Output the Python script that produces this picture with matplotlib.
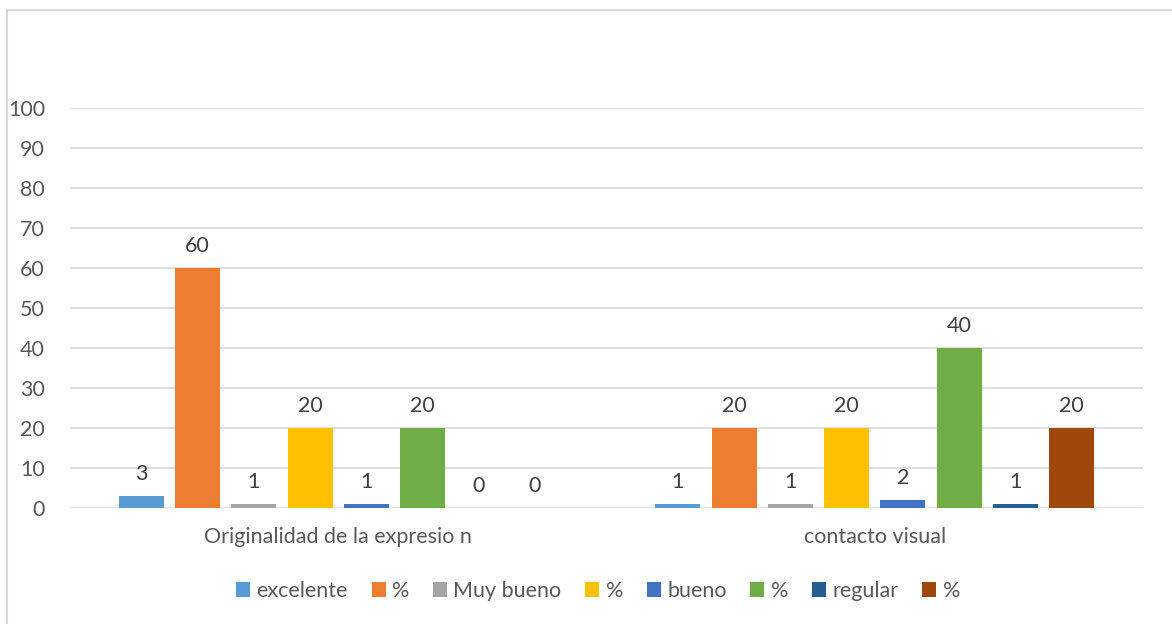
#!/usr/bin/env python3
"""Grouped bar chart: originalidad / contacto visual."""

import matplotlib
matplotlib.use("Agg")
import matplotlib.pyplot as plt
from matplotlib.patches import Rectangle
import numpy as np

categories = ["Originalidad de la expresio n", "contacto visual"]
series_names = ["excelente", "%", "Muy bueno", "%", "bueno", "%", "regular", "%"]
excelente = [3, 1]
pct_excelente = [60, 20]
muy_bueno = [1, 1]
pct_muy_bueno = [20, 20]
bueno = [1, 2]
pct_bueno = [20, 40]
regular = [0, 1]
pct_regular = [0, 20]
colors = ["#5B9BD5", "#ED7D31", "#A5A5A5", "#FFC000",
          "#4472C4", "#70AD47", "#255E91", "#9E480E"]

series = [excelente, pct_excelente, muy_bueno, pct_muy_bueno,
          bueno, pct_bueno, regular, pct_regular]

plt.rcParams["font.family"] = ["Lato", "DejaVu Sans"]
FS = 15.5

W, H = 1172, 624
fig = plt.figure(figsize=(W / 100, H / 100), dpi=100)
ax = fig.add_axes([70 / W, 116 / H, (1143 - 70) / W, 400 / H])

# outer border (light gray frame, runs off right/bottom)
fig.patches.append(Rectangle((7 / W, -0.05), 1.1, (H - 10) / H + 0.05,
                             transform=fig.transFigure, fill=False,
                             edgecolor="#D9D9D9", linewidth=1.5))

x = np.arange(len(categories))
step = 0.1048
width = 0.0838
n = len(series)
for i, (vals, name, col) in enumerate(zip(series, series_names, colors)):
    pos = x + (i - (n - 1) / 2) * step
    bars = ax.bar(pos, vals, width, color=col, label=name)
    for b, v in zip(bars, vals):
        ax.annotate(str(v), (b.get_x() + b.get_width() / 2, v),
                    xytext=(0, 9), textcoords="offset points",
                    ha="center", va="bottom", fontsize=FS, color="#404040")

ax.set_xlim(-0.5, 1.5)
ax.set_ylim(0, 100)
ax.set_yticks(range(0, 101, 10))
ax.set_xticks(x)
ax.set_xticklabels(categories)
ax.tick_params(axis="both", length=0, labelsize=FS, colors="#595959")
ax.tick_params(axis="y", pad=18)
ax.tick_params(axis="x", pad=14)
ax.grid(axis="y", color="#D9D9D9", linewidth=1.2)
ax.set_axisbelow(True)
for s in ax.spines.values():
    s.set_visible(False)

ax.legend(loc="center", bbox_to_anchor=(598 / W, 33 / H),
          bbox_transform=fig.transFigure, ncol=8, frameon=False,
          fontsize=FS, labelcolor="#595959", handlelength=0.65,
          handleheight=0.65, handletextpad=0.3, columnspacing=1.1)

fig.savefig("out.png", dpi=100)
plt.close(fig)
